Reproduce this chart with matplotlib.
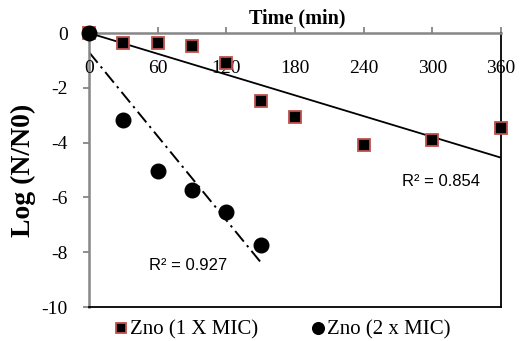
import numpy as np
import matplotlib.pyplot as plt
import matplotlib.transforms as mtransforms

# data
time1 = [0, 30, 60, 90, 120, 150, 180, 240, 300, 360]
logn1 = [0, -0.38, -0.37, -0.47, -1.08, -2.48, -3.07, -4.07, -3.92, -3.48]
time2 = [0, 30, 60, 90, 120, 150]
logn2 = [0, -3.18, -5.02, -5.72, -6.52, -7.75]

# trendlines as drawn in the chart (intercept, slope, x range)
trend1 = [0.0, -0.01264, 0, 360]
trend2 = [-0.70, -0.0511, 0, 150]
r2_labels = ["R² = 0.854", "R² = 0.927"]

xticks = [0, 60, 120, 180, 240, 300, 360]
yticks = [0, -2, -4, -6, -8, -10]

W, H = 531, 341
fig = plt.figure(figsize=(W / 100, H / 100), dpi=100)
ax = fig.add_axes([89 / W, 1 - 307 / H, (501 - 89) / W, (307 - 33) / H])

serif = 'Liberation Serif'
gray = '#868686'
edge = '#C0504D'

ax.set_xlim(0, 360)
ax.set_ylim(-10, 0)

# trendlines
xa = np.array(trend1[2:])
ax.plot(xa, trend1[0] + trend1[1] * xa, color='black', lw=1.3, zorder=2)
xb = np.array(trend2[2:])
ax.plot(xb, trend2[0] + trend2[1] * xb, color='black', lw=1.4,
        dashes=(7, 2.5, 1.2, 2.5), zorder=2)

# markers
ax.plot(time1, logn1, ls='none', marker='s', ms=8.4, mfc='black', mec=edge,
        mew=1.3, clip_on=False, zorder=4, label='Zno (1 X MIC)')
ax.plot(time2, logn2, ls='none', marker='o', ms=10.5, mfc='black', mec='black',
        clip_on=False, zorder=5, label='Zno (2 x MIC)')

# R² labels
fig.text(441 / W, 1 - 182 / H, r2_labels[0], ha='center', va='center',
         family='Liberation Sans', fontsize=12)
fig.text(188 / W, 1 - 266 / H, r2_labels[1], ha='center', va='center',
         family='Liberation Sans', fontsize=12)

# spines
for s in ['left', 'top']:
    ax.spines[s].set_color(gray)
    ax.spines[s].set_linewidth(1.8)
for s in ['right', 'bottom']:
    ax.spines[s].set_color('black')
    ax.spines[s].set_linewidth(1.3)

# y axis
ax.set_yticks(yticks)
ax.set_yticklabels([str(v) for v in yticks], family=serif, fontsize=14)
ax.tick_params(axis='y', direction='out', length=4.3, width=1.3, color=gray,
               pad=11)

# x axis: ticks on top, labels just below the zero line
ax.set_xticks(xticks)
ax.tick_params(axis='x', top=True, bottom=False, labeltop=False,
               labelbottom=False, direction='out', length=4.3, width=1.3,
               color=gray)
trans = mtransforms.blended_transform_factory(ax.transData, fig.transFigure)
for t in xticks:
    ax.text(t, 1 - 68.5 / H, str(t), transform=trans, ha='center',
            va='center', family=serif, fontsize=14)

fig.text(297 / W, 1 - 18.5 / H, 'Time (min)', ha='center', va='center',
         family=serif, fontsize=14.5, fontweight='bold')
fig.text(23 / W, 1 - 170 / H, 'Log (N/N0)', ha='center', va='center',
         rotation=90, family=serif, fontsize=20, fontweight='bold')

leg = fig.legend(loc='center', bbox_to_anchor=(283 / W, 1 - 330 / H), ncol=2,
                 frameon=False, prop={'family': serif, 'size': 15},
                 handlelength=0.5, handletextpad=0.2, columnspacing=2.6,
                 markerscale=0.8, borderpad=0)

fig.savefig('out.png', dpi=100)
